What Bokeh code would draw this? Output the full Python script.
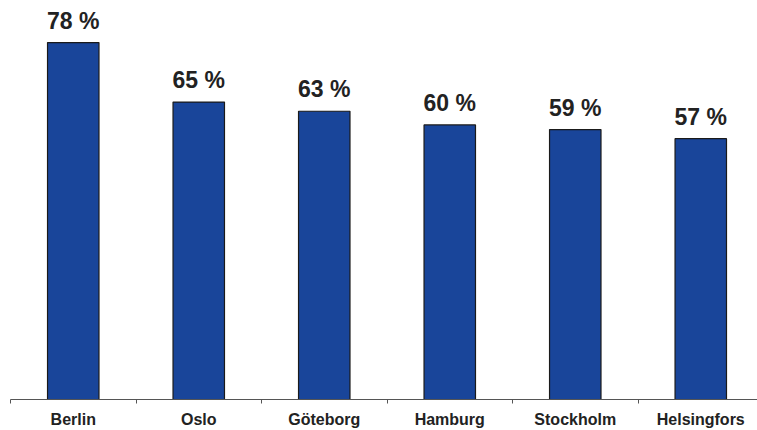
from bokeh.plotting import figure
from bokeh.models import Range1d, FixedTicker, ColumnDataSource
from bokeh.core.properties import value
from bokeh.embed import file_html
from bokeh.resources import INLINE

cities = ["Berlin", "Oslo", "Göteborg", "Hamburg", "Stockholm", "Helsingfors"]
shares = [78, 65, 63, 60, 59, 57]
labels = [f"{v} %" for v in shares]

xs = [i + 0.5 for i in range(len(cities))]
src = ColumnDataSource(dict(x=xs, top=shares, label=labels))

p = figure(width=757, height=430, output_backend="svg", toolbar_location=None,
           x_range=Range1d(0, 5.952), y_range=Range1d(0, 87.2),
           min_border_left=10, min_border_right=0, min_border_top=0, min_border_bottom=29)
p.outline_line_color = None
p.grid.visible = False
p.yaxis.visible = False

p.vbar(x="x", top="top", width=0.41, bottom=0, source=src,
       fill_color="#19459A", line_color="#1a1a1a", line_width=1.2)

p.text(x="x", y="top", text="label", source=src, text_align="center",
       text_baseline="alphabetic", y_offset=-22, text_font=value("Liberation Sans"),
       text_font_style="bold", text_font_size="23px", text_color="#222222")

ax = p.xaxis[0]
ax.ticker = FixedTicker(ticks=xs, minor_ticks=list(range(len(cities) + 1)))
ax.major_label_overrides = {x: c for x, c in zip(xs, cities)}
ax.major_tick_out = 0
ax.major_tick_in = 0
ax.minor_tick_out = 4
ax.minor_tick_in = 0
ax.minor_tick_line_color = "#555555"
ax.axis_line_color = "#555555"
ax.major_label_standoff = 7
ax.major_label_text_font = "Liberation Sans"
ax.major_label_text_font_style = "bold"
ax.major_label_text_font_size = "16px"
ax.major_label_text_color = "#222222"

open("out.html", "w").write(file_html(p, INLINE))
